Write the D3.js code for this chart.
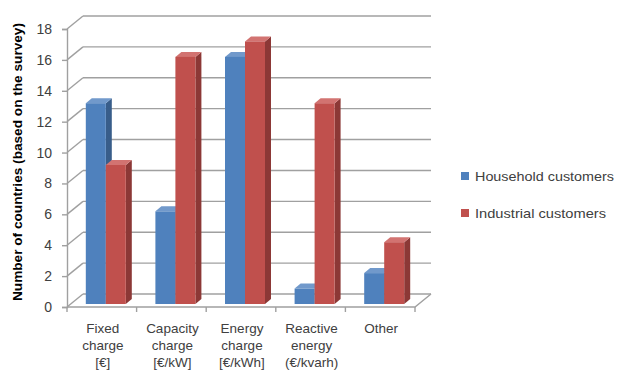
<!DOCTYPE html>
<html><head><meta charset="utf-8">
<script src="https://cdn.jsdelivr.net/npm/d3@7"></script>
<style>body{margin:0;background:#fff}svg{display:block}</style>
</head><body><svg id="c" width="626" height="373"></svg>
<script>
const categories = [["Fixed","charge","[€]"],["Capacity","charge","[€/kW]"],["Energy","charge","[€/kWh]"],["Reactive","energy","(€/kvarh)"],["Other"]];
const household = [13, 6, 16, 1, 2];
const industrial = [9, 16, 17, 13, 4];
const seriesNames = ["Household customers", "Industrial customers"];
const yTicks = [0,2,4,6,8,10,12,14,16,18];

(function(){
const svg = d3.select("#c");
const pLeft = 67, pRight = 415, pBottom = 307, pTop = 29;
const DX = 16, DY = -13;          // wall depth
const fx = 4, fy = -3, bdx = 6, bdy = -5;  // bar placement / bar depth
const y = d3.scaleLinear().domain([0,18]).range([pBottom, pTop]);
const x = d3.scaleBand().domain(d3.range(categories.length)).range([pLeft, pRight]).padding(0);
const xs = d3.scaleBand().domain([0,1]).range([0, 40]);
const gridColor = "#a0a0a0";
const textColor = "#404040";
const colors = [
  {front:"#4F81BD", side:"#385D8A", top:"#7199CB"},
  {front:"#C0504D", side:"#8C3836", top:"#D27371"}
];

const g = svg.append("g");
yTicks.forEach(v => {
  g.append("line").attr("x1", pLeft).attr("y1", y(v)).attr("x2", pLeft+DX).attr("y2", y(v)+DY)
    .attr("stroke", gridColor).attr("stroke-width", 1.4);
  g.append("line").attr("x1", pLeft+DX).attr("y1", y(v)+DY).attr("x2", pRight+DX).attr("y2", y(v)+DY)
    .attr("stroke", gridColor).attr("stroke-width", 1.4);
});
g.append("path").attr("d", `M${pLeft},${pBottom}L${pRight},${pBottom}L${pRight+DX},${pBottom+DY}`)
  .attr("fill","none").attr("stroke", gridColor).attr("stroke-width", 1.4);

const yAxis = d3.axisLeft(y).tickValues(yTicks).tickSize(5).tickPadding(10).tickFormat(d3.format("d"));
const ya = svg.append("g").attr("transform", `translate(${pLeft},0)`).call(yAxis);
ya.select(".domain").attr("stroke", gridColor).attr("stroke-width", 1.4);
ya.selectAll(".tick line").attr("stroke", gridColor).attr("stroke-width", 1.4);
ya.selectAll("text").attr("fill", textColor).style("font-family", "Liberation Sans, Arial, sans-serif").style("font-size", "14px");

d3.range(categories.length + 1).forEach(i => {
  const xx = pLeft + i * x.step();
  svg.append("line").attr("x1", xx).attr("x2", xx).attr("y1", pBottom).attr("y2", pBottom + 5)
    .attr("stroke", gridColor).attr("stroke-width", 1.4);
});
categories.forEach((lines, i) => {
  const t = svg.append("text").attr("text-anchor", "middle").attr("fill", textColor)
    .style("font-family", "Liberation Sans, Arial, sans-serif").style("font-size", "13.5px");
  lines.forEach((l, k) => {
    t.append("tspan").attr("x", x(i) + x.bandwidth()/2 + 1).attr("y", 333 + k*17).text(l);
  });
});

const bars = svg.append("g");
categories.forEach((c, i) => {
  [household[i], industrial[i]].forEach((v, s) => {
    const x0 = x(i) + x.bandwidth()/2 - 20 + xs(s) + fx;
    const x1 = x0 + xs.bandwidth();
    const y0 = y(0) + fy, y1 = y(v) + fy;
    const col = colors[s];
    bars.append("path").attr("d", `M${x1},${y1}L${x1+bdx},${y1+bdy}L${x1+bdx},${y0+bdy}L${x1},${y0}Z`).attr("fill", col.side);
    bars.append("path").attr("d", `M${x0},${y1}L${x0+bdx},${y1+bdy}L${x1+bdx},${y1+bdy}L${x1},${y1}Z`).attr("fill", col.top);
    bars.append("rect").attr("x", x0).attr("y", y1).attr("width", x1-x0).attr("height", y0-y1).attr("fill", col.front);
  });
});

svg.append("text").attr("transform", `translate(22,162) rotate(-90)`).attr("text-anchor","middle")
  .attr("fill", "#000").style("font-family", "Liberation Sans, Arial, sans-serif").style("font-size","12px").style("font-weight","bold")
  .attr("textLength", 278).attr("lengthAdjust","spacingAndGlyphs")
  .text("Number of countries (based on the survey)");

seriesNames.forEach((n, i) => {
  const ly = 176 + i*37;
  svg.append("rect").attr("x", 461).attr("y", ly-4).attr("width", 8).attr("height", 8).attr("fill", colors[i].front);
  svg.append("text").attr("x", 475).attr("y", ly+5).attr("fill", textColor)
    .style("font-family", "Liberation Sans, Arial, sans-serif").style("font-size","13px")
    .attr("textLength", i===0 ? 139 : 131).attr("lengthAdjust","spacingAndGlyphs").text(n);
});
})();
</script></body></html>
